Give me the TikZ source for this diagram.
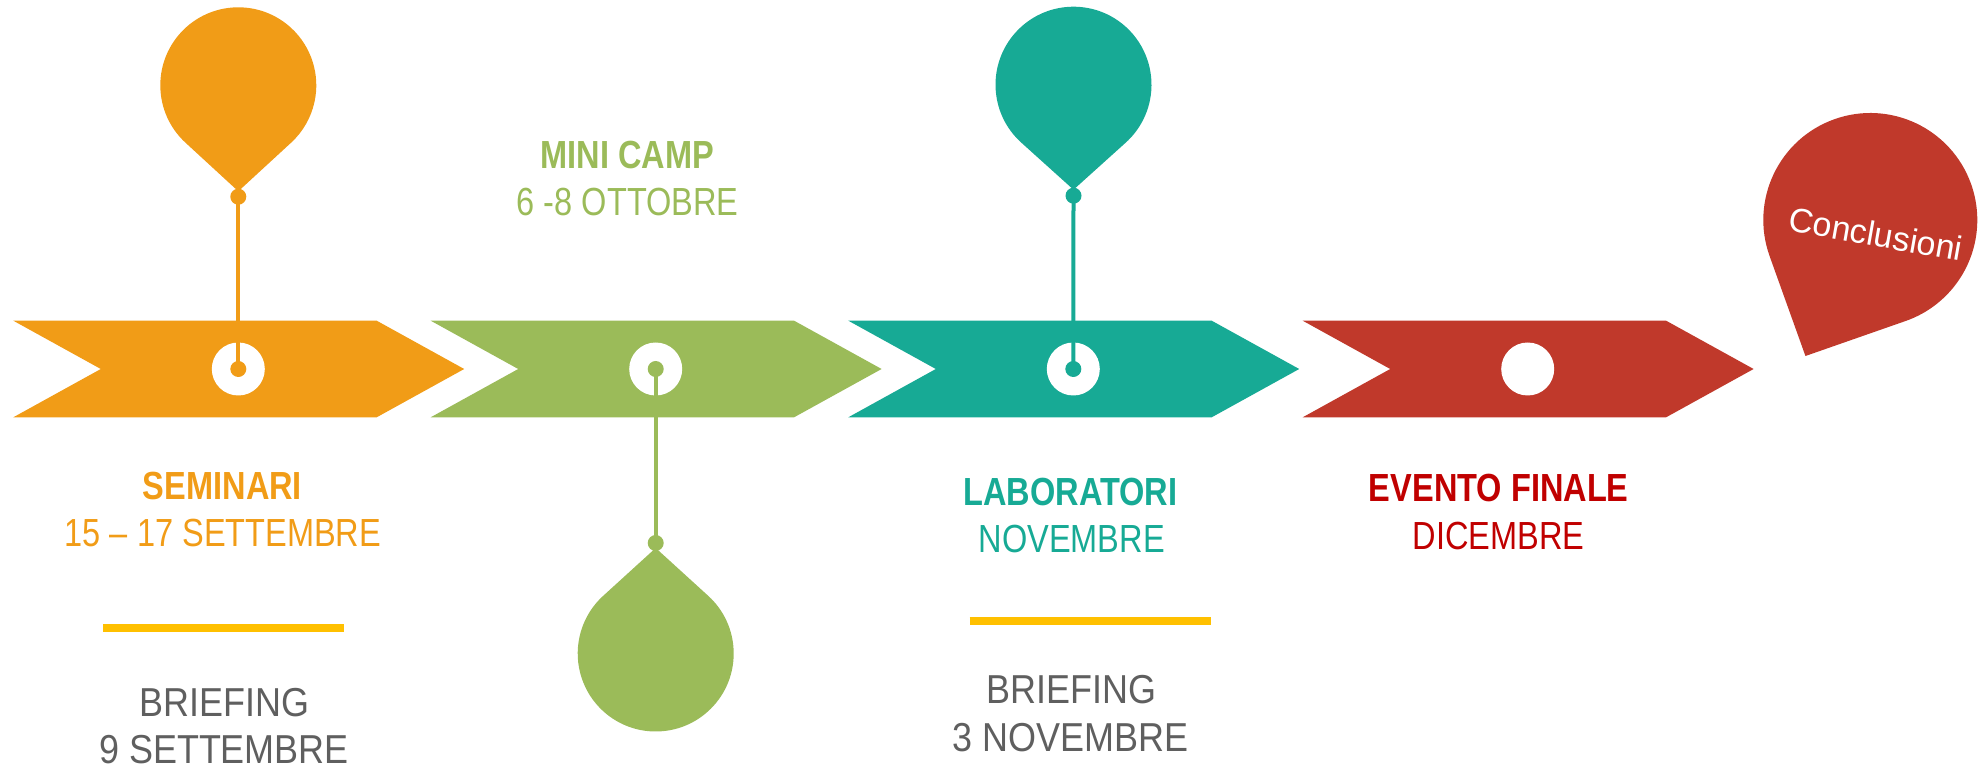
\documentclass[tikz,border=0pt]{standalone}
\usepackage{fontspec}
\setmainfont{Liberation Sans}
\newfontfamily\narrowfont[FakeStretch=0.83]{Liberation Sans}
\newfontfamily\briefont[FakeStretch=0.89]{Liberation Sans}

\definecolor{seminari}{HTML}{F19C17}
\definecolor{minicamp}{HTML}{9BBB59}
\definecolor{lab}{HTML}{17AA95}
\definecolor{evento}{HTML}{C0392B}
\definecolor{eventotext}{HTML}{C00000}
\definecolor{bar}{HTML}{FFC000}
\definecolor{brief}{HTML}{5F5F5F}

% balloon: colour, centre, turn, radius, distance of the tip
\newcommand{\pin}[5]{%
	\begin{scope}[shift={#2}, rotate=#3]
		\pgfmathsetmacro{\pinang}{acos(#4/#5)}
		\fill[#1] (90:#5) -- (90+\pinang:#4)
			arc[start angle=90+\pinang, end angle=450-\pinang, radius=#4] -- cycle;
	\end{scope}}

\begin{document}
\begin{tikzpicture}[x=0.5pt, y=-0.5pt,
	titletext/.style={font=\narrowfont\bfseries\fontsize{19.6}{24}\selectfont, anchor=base, inner sep=0pt},
	datetext/.style={font=\narrowfont\fontsize{19.6}{24}\selectfont, anchor=base, inner sep=0pt},
	brieftext/.style={font=\briefont\fontsize{20.2}{24}\selectfont, brief, anchor=base, inner sep=0pt},
	cord/.style={line width=2pt},
	yellowbar/.style={bar, line width=3.85pt}]
	\useasboundingbox (0,0) rectangle (1979,769);
	
	% Balloons above and below the arrows
	\pin{seminari}{(238.3,85.3)}{0}{78}{106}
	\pin{lab}{(1073.5,84.7)}{0}{78}{105}
	\pin{minicamp}{(655.7,653.5)}{180}{78}{105.5}
	\pin{evento}{(1870.3,220)}{-25.5}{107}{150.7}
	
	% Draw the four arrows with a white hole in the middle
	\foreach \x/\c in {13.3/seminari, 430.7/minicamp, 848.3/lab, 1302.7/evento}{
		\fill[\c] (\x,320.7) -- ++(363.4,0) -- ++(87.5,48.3) -- ++(-87.5,48.3)
			-- ++(-363.4,0) -- ++(87.5,-48.3) -- cycle;
		\coordinate (hub-\c) at (\x+225,369);
		\fill[white] (hub-\c) circle[radius=26.5];
	}
	
	% Knots under the balloons
	\coordinate (knot-seminari) at (238.3,196.7);
	\coordinate (knot-lab) at (1073.5,195.7);
	\coordinate (knot-minicamp) at (655.7,543);
	
	% Strings from the holes to the knots
	\foreach \c in {seminari, minicamp, lab}{
		\draw[cord, \c] (hub-\c) -- (knot-\c);
		\fill[\c] (hub-\c) circle[radius=8];
		\fill[\c] (knot-\c) circle[radius=8];
	}
	
	% Labels of the steps
	\node[titletext, seminari] (sem title) at (222.5,499.3) {SEMINARI};
	\node[datetext, seminari] (sem date) at (223,546.7) {15 – 17 SETTEMBRE};
	\node[titletext, minicamp] (camp title) at (627.5,168.5) {MINI CAMP};
	\node[datetext, minicamp] (camp date) at (627.7,215.4) {6 -8 OTTOBRE};
	\node[titletext, lab] (lab title) at (1070.5,505) {LABORATORI};
	\node[datetext, lab] (lab date) at (1071.7,552.7) {NOVEMBRE};
	\node[titletext, eventotext] (fin title) at (1498.8,501.7) {EVENTO FINALE};
	\node[datetext, eventotext] (fin date) at (1498.8,549.3) {DICEMBRE};
	
	% Yellow bars and briefings
	\draw[yellowbar] (103,627.8) -- (344,627.8);
	\draw[yellowbar] (969.7,621.3) -- (1210.7,621.3);
	\node[brieftext] (brief1) at (224.5,716) {BRIEFING};
	\node[brieftext] (brief1 date) at (224,763.5) {9 SETTEMBRE};
	\node[brieftext] (brief2) at (1071.7,703.3) {BRIEFING};
	\node[brieftext] (brief2 date) at (1070.8,751.7) {3 NOVEMBRE};
	
	% Text in the last balloon
	\node[white, font=\fontsize{17}{20}\selectfont, rotate=-10] (concl) at (1876,234) {Conclusioni};
\end{tikzpicture}
\end{document}
